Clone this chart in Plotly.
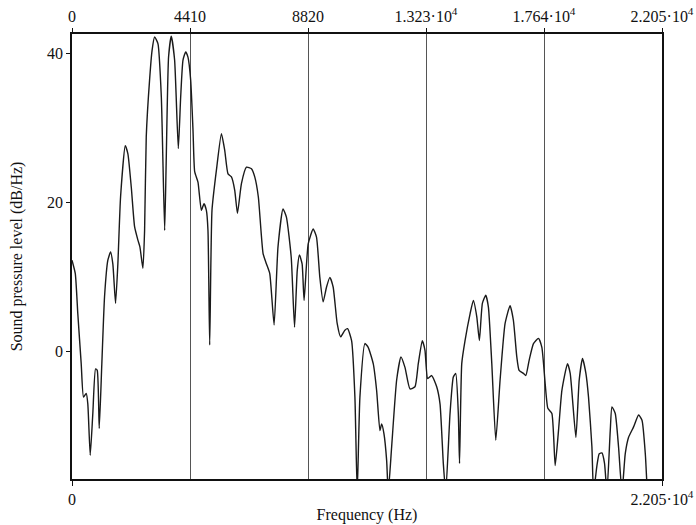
import plotly.graph_objects as go

# Frequency (Hz) and sound pressure level (dB/Hz)
freq = [0, 123, 217, 344, 430, 532, 591, 681, 778, 880, 943, 1018, 1115, 1216, 1340, 1441,
        1526, 1628, 1714, 1815, 1990, 2089, 2216, 2339, 2463, 2538, 2650, 2713, 2775, 2899,
        2993, 3087, 3212, 3339, 3463, 3519, 3609, 3710, 3835, 3973, 4061, 4148, 4249, 4334,
        4435, 4522, 4585, 4708, 4835, 4933, 5022, 5082, 5146, 5232, 5397, 5584, 5707, 5831,
        5958, 6082, 6183, 6332, 6520, 6707, 6830, 6964, 7141, 7268, 7391, 7553, 7699, 7886,
        8013, 8193, 8317, 8418, 8501, 8600, 8674, 8827, 9013, 9138, 9262, 9386, 9513, 9637,
        9760, 9910, 10038, 10198, 10299, 10449, 10573, 10659, 10760, 10947, 11070, 11258,
        11385, 11508, 11572, 11658, 11759, 11819, 11946, 12133, 12294, 12444, 12631, 12818,
        12942, 13091, 13192, 13293, 13443, 13630, 13754, 13877, 13967, 14128, 14251, 14341,
        14438, 14483, 14566, 14689, 14877, 15000, 15128, 15225, 15337, 15464, 15562, 15689,
        15838, 15999, 16186, 16373, 16497, 16624, 16710, 16871, 16961, 17085, 17246, 17433,
        17560, 17684, 17784, 17934, 18058, 18182, 18309, 18518, 18619, 18832, 18956, 19079,
        19206, 19304, 19431, 19491, 19618, 19704, 19805, 19902, 19992, 20116, 20179, 20303,
        20426, 20554, 20677, 20801, 20988, 21175, 21302, 21426, 21500]
spl = [12.2, 10.4, 5.0, -1.7, -6.2, -5.7, -7.1, -14.0, -8.4, -2.4, -2.6, -10.4, -1.7, 7.3, 12.2, 13.3,
       11.7, 6.4, 11.7, 20.7, 27.6, 26.5, 22.0, 16.7, 14.9, 14.0, 11.1, 16.2, 28.8, 36.4,
       40.4, 42.2, 41.3, 34.1, 16.2, 25.2, 39.5, 42.3, 39.1, 27.2, 34.1, 39.1, 40.2, 39.5,
       36.4, 29.7, 24.1, 22.7, 18.9, 19.8, 18.9, 16.2, 0.8, 18.9, 24.3, 29.2, 27.0, 23.8,
       23.4, 21.6, 18.5, 22.5, 24.7, 24.5, 23.4, 20.7, 13.1, 11.7, 10.4, 3.5, 14.0, 19.1,
       18.0, 12.6, 3.2, 10.8, 12.9, 11.7, 6.8, 14.4, 16.4, 15.3, 9.9, 6.6, 8.6, 9.9,
       8.6, 3.7, 1.9, 2.8, 3.0, 1.4, -6.2, -19.0, -6.2, 1.0, 0.5, -1.7,
       -5.3, -10.7, -9.8, -11.1, -14.7, -19.0, -12.9, -3.9, -0.8, -2.2, -5.1, -4.8,
       -1.7, 1.4, 0.1, -3.7, -3.3, -4.8, -7.1, -15.1, -19.0, -8.4, -3.5, -3.0,
       -8.4, -15.1, -1.7, 1.4, 5.0, 6.8, 4.6, 1.4, 6.4, 7.5, 5.9, -1.7,
       -12.0, -3.9, 3.7, 6.1, 4.1, -0.8, -2.6, -3.0, -3.3, -1.25, 1.0, 1.7,
       0.5, -4.4, -7.7, -8.4, -15.4, -10.7, -5.3, -1.7, -3.0, -11.6, -3.9, -1.0,
       -3.0, -6.2, -12.9, -19.0, -15.4, -13.8, -13.7, -15.1, -19.0, -10.7, -7.5, -8.4,
       -12.9, -19.0, -13.8, -11.6, -10.2, -8.6, -9.3, -13.8, -19.0]

top_tickvals = [0, 4410, 8820, 13230, 17640, 22050]
top_ticktext = ["0", "4410", "8820", "1.323·10<sup>4</sup>", "1.764·10<sup>4</sup>", "2.205·10<sup>4</sup>"]
bottom_tickvals = [0, 22050]
bottom_ticktext = ["0", "2.205·10<sup>4</sup>"]
y_tickvals = [0, 20, 40]

font = dict(family="Liberation Serif, Times New Roman, serif", size=16, color="#111")
title_font = dict(family="Liberation Serif, Times New Roman, serif", size=16, color="#111")

fig = go.Figure()
fig.add_trace(go.Scatter(x=freq, y=spl, mode="lines",
                         line=dict(color="#1a1a1a", width=1.4, shape="spline", smoothing=0.5),
                         showlegend=False))
# dummy trace to activate top axis
fig.add_trace(go.Scatter(x=[0, 22050], y=[None, None], xaxis="x2", mode="lines",
                         showlegend=False, hoverinfo="skip"))

fig.update_layout(
    width=696, height=525,
    margin=dict(l=72, r=34, t=34, b=46),
    paper_bgcolor="white", plot_bgcolor="white",
    font=font,
    xaxis=dict(range=[0, 22050], tickvals=bottom_tickvals, ticktext=bottom_ticktext,
               showgrid=False, zeroline=False, showline=True, linecolor="#111",
               linewidth=1.5, mirror=True, ticks="outside", ticklen=5, tickcolor="#111",
               automargin=False,
               title=dict(text="Frequency (Hz)", standoff=2, font=title_font), tickfont=font),
    xaxis2=dict(range=[0, 22050], overlaying="x", side="top", matches="x",
                tickvals=top_tickvals, ticktext=top_ticktext, automargin=False,
                showgrid=True, gridcolor="#555", gridwidth=1, zeroline=False,
                showline=False, ticks="outside", ticklen=5, tickcolor="#111", tickfont=font),
    yaxis=dict(range=[-17.2, 42.6], tickvals=y_tickvals, showgrid=False, zeroline=False,
               showline=True, linecolor="#111", linewidth=1.5, mirror=True,
               ticks="outside", ticklen=4, tickcolor="#111", automargin=False,
               title=dict(text="Sound pressure level (dB/Hz)", standoff=20, font=title_font),
               tickfont=font),
)

fig.write_html("out.html", config={"displayModeBar": False},
               post_script="document.body.style.margin='0';document.body.style.overflow='hidden';")
